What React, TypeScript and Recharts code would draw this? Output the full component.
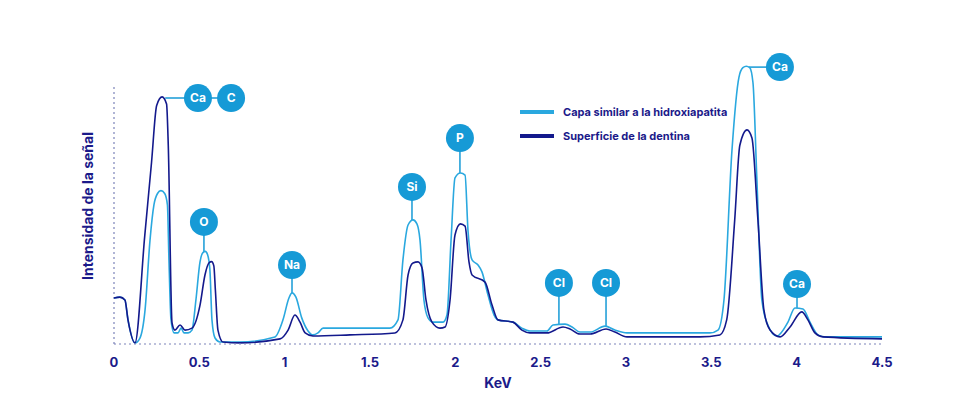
import React from 'react'
import {
  LineChart,
  Line,
  XAxis,
  YAxis,
  Legend,
  ReferenceLine,
  ReferenceDot,
} from 'recharts'

// keV, intensidad (0-100)
const superficieX = [0, 0.035, 0.064, 0.082, 0.123, 0.18, 0.22, 0.25, 0.282, 0.308, 0.318, 0.34, 0.357, 0.387, 0.416, 0.457, 0.504, 0.533, 0.557, 0.572, 0.585, 0.594, 0.609, 0.639, 0.738, 0.973, 1.02, 1.06, 1.09, 1.12, 1.166, 1.383, 1.646, 1.693, 1.723, 1.752, 1.781, 1.805, 1.828, 1.863, 1.91, 1.94, 1.969, 1.998, 2.03, 2.057, 2.08, 2.098, 2.174, 2.215, 2.25, 2.338, 2.39, 2.437, 2.537, 2.631, 2.672, 2.73, 2.79, 2.883, 2.935, 3.006, 3.433, 3.55, 3.59, 3.637, 3.667, 3.709, 3.738, 3.773, 3.808, 3.844, 3.903, 3.961, 4.03, 4.066, 4.107, 4.154, 4.5]
const superficieY = [16.2, 16.5, 15.5, 8.5, 0.4, 38, 64, 84, 87, 84.5, 70, 7.4, 4.9, 6.7, 4.9, 5.6, 13.7, 24.3, 28.6, 29, 27.5, 19, 4.9, 0.7, 0.4, 1.8, 4.9, 10.2, 7.7, 3.9, 2.8, 3.2, 3.9, 8.5, 24.3, 28.5, 28.9, 26.8, 15.5, 7.7, 5.6, 6, 15.5, 38.4, 42.3, 41.5, 28.9, 24.3, 21.8, 13.7, 8.5, 7.7, 4.9, 3.9, 3.9, 6, 5.3, 3.5, 3.5, 5.3, 4.2, 2.5, 2.5, 3.2, 8.5, 43.7, 70, 75.4, 72.5, 43.7, 12, 4.9, 2.5, 6, 11.3, 8.5, 3.9, 2.5, 1.8]

const capaX = [0, 0.035, 0.064, 0.082, 0.123, 0.152, 0.182, 0.211, 0.234, 0.255, 0.275, 0.297, 0.313, 0.322, 0.334, 0.352, 0.375, 0.393, 0.41, 0.434, 0.457, 0.48, 0.504, 0.521, 0.535, 0.548, 0.562, 0.574, 0.592, 0.621, 0.738, 0.943, 0.99, 1.025, 1.043, 1.066, 1.1, 1.137, 1.166, 1.195, 1.225, 1.617, 1.664, 1.693, 1.723, 1.752, 1.775, 1.793, 1.816, 1.84, 1.869, 1.928, 1.951, 1.975, 1.998, 2.03, 2.057, 2.074, 2.098, 2.133, 2.156, 2.191, 2.227, 2.25, 2.338, 2.39, 2.437, 2.537, 2.572, 2.643, 2.684, 2.73, 2.79, 2.877, 2.935, 3.006, 3.492, 3.539, 3.574, 3.621, 3.662, 3.685, 3.705, 3.725, 3.744, 3.767, 3.796, 3.831, 3.884, 3.949, 3.99, 4.037, 4.078, 4.125, 4.166, 4.5]
const capaY = [16.2, 16.5, 15.5, 8.5, 0.4, 2.1, 12, 36.6, 49, 53, 54, 53, 49, 29.6, 8.5, 3.9, 3.9, 5.6, 3.9, 3.9, 4.9, 15.5, 28.9, 32.2, 32.6, 31.5, 26, 8.5, 2.1, 0.7, 0.7, 2.5, 8.5, 16.2, 18, 16.5, 9.2, 4.6, 3.2, 3.9, 5.6, 5.6, 8.5, 29.6, 41.9, 43.7, 42.3, 36.6, 15.5, 9.2, 7.7, 7.7, 10.2, 36.6, 58.5, 60.2, 59.5, 40.1, 29.6, 27.8, 25.4, 17.3, 10.2, 8.5, 7.7, 5.6, 4.6, 4.6, 6.7, 7, 6, 4.2, 4.2, 6.3, 4.9, 3.9, 3.9, 4.9, 15.5, 68.3, 94, 97.3, 97.8, 97.3, 92, 57.7, 15.5, 6.7, 2.8, 7.7, 12.7, 12.3, 7.7, 3.2, 2.5, 2.5]

const xTicks = [0, 0.5, 1, 1.5, 2, 2.5, 3, 3.5, 4, 4.5]

// etiquetas de elementos: círculo en (x, y), conectado a (ax, ay)
const elementos = [
  { name: 'Ca', x: 0.492, y: 86.6, ax: 0.3, ay: 86.6 },
  { name: 'C', x: 0.686, y: 86.6, ax: 0.492, ay: 86.6 },
  { name: 'O', x: 0.527, y: 43, ax: 0.527, ay: 32.4 },
  { name: 'Na', x: 1.043, y: 27.8, ax: 1.043, ay: 18 },
  { name: 'Si', x: 1.746, y: 55.3, ax: 1.746, ay: 43.7 },
  { name: 'P', x: 2.027, y: 72.5, ax: 2.027, ay: 60.2 },
  { name: 'Cl', x: 2.607, y: 21.5, ax: 2.607, ay: 7 },
  { name: 'Cl', x: 2.883, y: 21.5, ax: 2.883, ay: 6.3 },
  { name: 'Ca', x: 3.902, y: 97.5, ax: 3.72, ay: 97.5 },
  { name: 'Ca', x: 4.002, y: 21.1, ax: 4.002, ay: 12.7 },
]

const superficie = superficieX.map((x, i) => ({ x, y: superficieY[i] }))
const capa = capaX.map((x, i) => ({ x, y: capaY[i] }))

const LIGHT = '#2aa8df'
const DARK = '#13198c'
const BUBBLE = '#169ad6'
const NAVY = '#1b1a8a'
const FONT = 'Inter, "Open Sans", sans-serif'

const series = [
  { name: 'Capa similar a la hidroxiapatita', color: LIGHT },
  { name: 'Superficie de la dentina', color: DARK },
]

function LegendBox() {
  return (
    <div style={{ fontFamily: FONT, fontSize: 11, fontWeight: 700, color: NAVY }}>
      {series.map((s) => (
        <div key={s.name} style={{ display: 'flex', alignItems: 'center', height: 24 }}>
          <span style={{ width: 34, height: 4, background: s.color, marginRight: 9 }} />
          {s.name}
        </div>
      ))}
    </div>
  )
}

export default function App() {
  return (
    <div style={{ position: 'absolute', left: 0, top: 0, width: 970, height: 416, background: '#fff' }}>
      <LineChart width={970} height={416} margin={{ top: 60, right: 88, left: 114, bottom: 32 }}>
        <XAxis
          type="number"
          dataKey="x"
          domain={[0, 4.5]}
          ticks={xTicks}
          tickLine={false}
          tickMargin={8}
          axisLine={{ stroke: '#7c84ba', strokeDasharray: '2 3', strokeWidth: 1.2 }}
          tick={{ fill: NAVY, fontSize: 13, fontWeight: 700, fontFamily: FONT }}
          height={40}
          allowDuplicatedCategory={false}
          label={{ value: 'KeV', position: 'insideBottom', offset: -4, fill: NAVY, fontSize: 14, fontWeight: 700, fontFamily: FONT }}
        />
        <YAxis type="number" domain={[0, 100]} hide allowDataOverflow />
        <ReferenceLine
          segment={[{ x: 0, y: 0 }, { x: 0, y: 91.2 }]}
          stroke="#7c84ba"
          strokeDasharray="2 3"
          strokeWidth={1.2}
        />
        {elementos.map((e, i) => (
          <ReferenceLine
            key={'seg' + i}
            segment={[{ x: e.ax, y: e.ay }, { x: e.x, y: e.y }]}
            stroke={BUBBLE}
            strokeWidth={1.5}
            ifOverflow="visible"
          />
        ))}
        <Line data={capa} dataKey="y" type="monotone" stroke={LIGHT} strokeWidth={1.6} dot={false} isAnimationActive={false} name={series[0].name} />
        <Line data={superficie} dataKey="y" type="monotone" stroke={DARK} strokeWidth={1.6} dot={false} isAnimationActive={false} name={series[1].name} />
        {elementos.map((e, i) => (
          <ReferenceDot
            key={'dot' + i}
            x={e.x}
            y={e.y}
            r={14}
            fill={BUBBLE}
            stroke="none"
            ifOverflow="visible"
            label={{ value: e.name, position: 'center', fill: '#fff', fontSize: 12, fontWeight: 700, fontFamily: FONT }}
          />
        ))}
        <Legend
          layout="horizontal"
          verticalAlign="middle"
          content={<LegendBox />}
          wrapperStyle={{ left: 520, top: 100, width: 260 }}
        />
      </LineChart>
      <div
        style={{
          position: 'absolute',
          left: 87,
          top: 206,
          transform: 'translate(-50%, -50%) rotate(-90deg)',
          whiteSpace: 'nowrap',
          fontFamily: FONT,
          fontSize: 14,
          fontWeight: 700,
          color: NAVY,
        }}
      >
        Intensidad de la señal
      </div>
    </div>
  )
}
